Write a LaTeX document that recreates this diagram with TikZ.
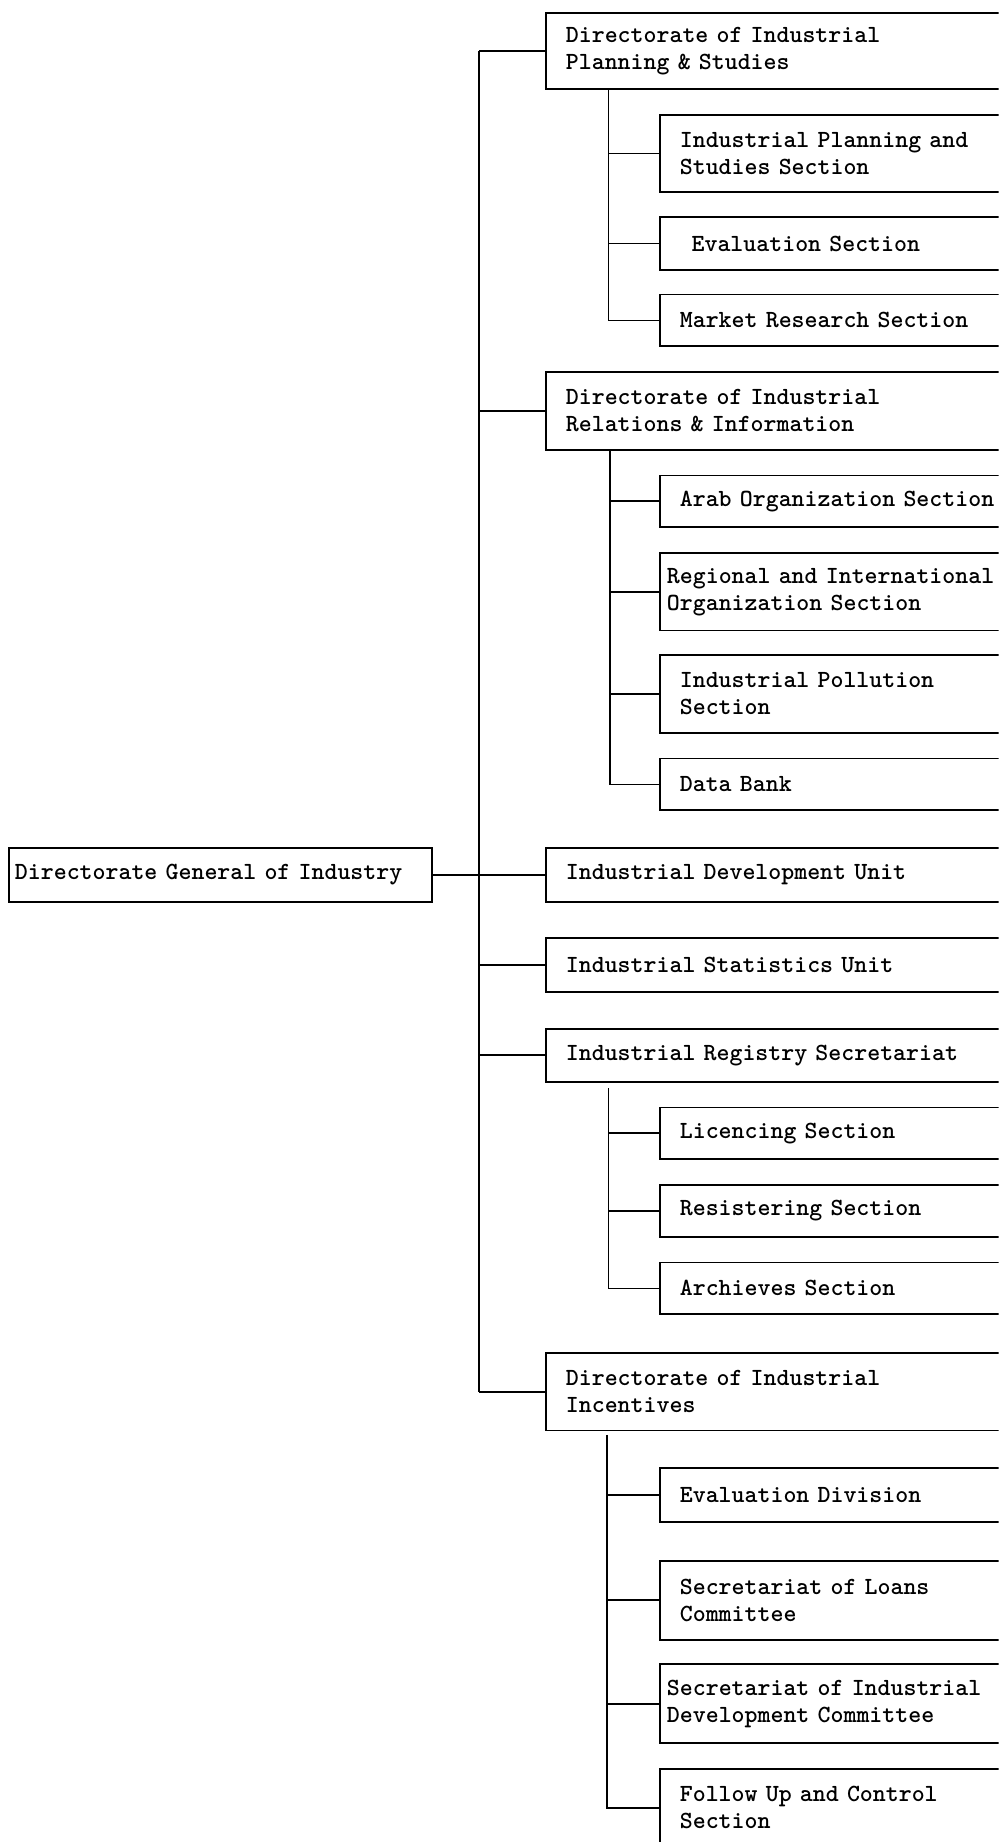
\documentclass[tikz,border=0pt]{standalone}
\usepackage{fontspec}
\begin{document}
\begin{tikzpicture}[x=1pt,y=-1pt,
  box/.style={draw, line width=1.5pt, anchor=north west, align=left, inner ysep=0pt,
    font=\ttfamily\bfseries\fontsize{21pt}{23pt}\selectfont},
  lvone/.style={box, inner xsep=17pt, text width=382pt},
  lvtwo/.style={box, inner xsep=17pt, text width=285pt},
  lvtwowide/.style={box, inner xsep=6pt, text width=307pt},
  lvtwoind/.style={box, inner xsep=27pt, text width=265pt},
  conn/.style={line width=1.5pt}]
\useasboundingbox (0,0) rectangle (850,1568);
\clip (0,0) rectangle (850,1568);
% root
\node[box, inner xsep=5pt, text width=350pt, minimum height=46pt] (root) at (7,721) {Directorate General of Industry};
% level one
\node[lvone, minimum height=65pt] (d1) at (464,10) {Directorate of Industrial\\Planning \& Studies};
\node[lvone, minimum height=66pt] (d2) at (464,316) {Directorate of Industrial\\Relations \& Information};
\node[lvone, minimum height=46pt] (u1) at (464,721) {Industrial Development Unit};
\node[lvone, minimum height=46pt] (u2) at (464,798) {Industrial Statistics Unit};
\node[lvone, minimum height=45pt] (u3) at (464,875) {Industrial Registry Secretariat};
\node[lvone, minimum height=66pt] (d3) at (464,1151) {Directorate of Industrial\\Incentives};
% group 1
\node[lvtwo, minimum height=66pt] (s11) at (561,97) {Industrial Planning and\\Studies Section};
\node[lvtwoind, minimum height=45pt] (s12) at (561,184) {Evaluation Section};
\node[lvtwo, minimum height=44pt] (s13) at (561,250) {Market Research Section};
% group 2
\node[lvtwo, minimum height=44pt] (s21) at (561,404) {Arab Organization Section};
\node[lvtwowide, minimum height=66pt] (s22) at (561,470) {Regional and International\\Organization Section};
\node[lvtwo, minimum height=66pt] (s23) at (561,557) {Industrial Pollution\\Section};
\node[lvtwo, minimum height=44pt] (s24) at (561,645) {Data Bank};
% group 3
\node[lvtwo, minimum height=44pt] (s31) at (561,942) {Licencing Section};
\node[lvtwo, minimum height=44pt] (s32) at (561,1008) {Resistering Section};
\node[lvtwo, minimum height=44pt] (s33) at (561,1074) {Archieves Section};
% group 4
\node[lvtwo, minimum height=46pt] (s41) at (561,1249) {Evaluation Division};
\node[lvtwo, minimum height=67pt] (s42) at (561,1328) {Secretariat of Loans\\Committee};
\node[lvtwowide, minimum height=67pt] (s43) at (561,1416) {Secretariat of Industrial\\Development Committee};
\node[lvtwo, minimum height=66pt] (s44) at (561,1505) {Follow Up and Control\\Section};
% spines
\coordinate (sp) at (408,0);
\coordinate (a1) at (518,0);
\coordinate (a2) at (519,0);
\coordinate (a3) at (518,0);
\coordinate (a4) at (517,0);
\draw[conn] (d1.west -| sp) -- (d3.west -| sp);
\draw[conn] (root.east) -- (u1.west);
\foreach \n in {d1,d2,u2,u3,d3} \draw[conn] (\n.west -| sp) -- (\n.west);
% group spines
\draw[conn] (d1.south -| a1) -- (s13.west -| a1) -- (s13.west);
\foreach \n in {s11,s12} \draw[conn] (\n.west -| a1) -- (\n.west);
\draw[conn] (d2.south -| a2) -- (s24.west -| a2) -- (s24.west);
\foreach \n in {s21,s22,s23} \draw[conn] (\n.west -| a2) -- (\n.west);
\draw[conn] ([yshift=-5pt]u3.south -| a3) -- (s33.west -| a3) -- (s33.west);
\foreach \n in {s31,s32} \draw[conn] (\n.west -| a3) -- (\n.west);
\draw[conn] ([yshift=-3pt]d3.south -| a4) -- (s44.west -| a4) -- (s44.west);
\foreach \n in {s41,s42,s43} \draw[conn] (\n.west -| a4) -- (\n.west);
\end{tikzpicture}
\end{document}
